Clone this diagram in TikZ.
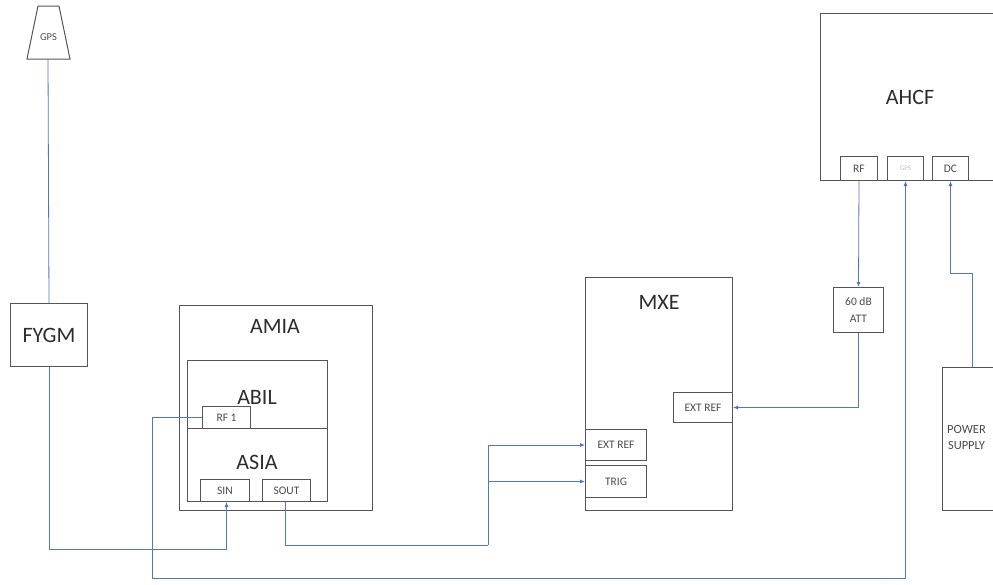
\documentclass[tikz,border=0pt]{standalone}
\usepackage{fontspec}
\setmainfont{Carlito}
\usetikzlibrary{arrows.meta,calc}
\definecolor{conncol}{RGB}{80,118,196}
\definecolor{boxcol}{RGB}{85,85,85}
\definecolor{txtcol}{RGB}{45,45,45}
\tikzset{
  box/.style={draw=boxcol, line width=1pt, fill=white, rectangle, inner sep=0pt, anchor=north west},
  big/.style={font=\fontsize{22}{24}\selectfont, text=txtcol, inner sep=0pt},
  small/.style={font=\fontsize{11.5}{13}\selectfont, text=txtcol!85, inner sep=0pt, align=center},
  conn/.style={draw=conncol, line width=0.8pt},
  arr/.style={conn, -{Latex[length=5pt,width=4pt]}}
}
\begin{document}
\begin{tikzpicture}[x=1pt,y=-1pt]
\useasboundingbox (0,0) rectangle (993,584);
\clip (0,0) rectangle (993,584);
\fill[white] (0,0) rectangle (993,584);

% GPS antenna
\draw[draw=boxcol, line width=1pt] (38,6) -- (59,6) -- (70,59) -- (27,59) -- cycle;
\node[small, font=\fontsize{10.5}{11}\selectfont] (gpstxt) at (48.5,37) {GPS};
\coordinate (gpsb) at (48,59);

% FYGM
\node[box, minimum width=77pt, minimum height=63pt] (fygm) at (10,303) {};
\node[big] (fygmtxt) at (fygm.center) {FYGM};

% AMIA
\node[box, minimum width=193pt, minimum height=205pt] (amia) at (179,305) {};
\node[big] (amiatxt) at (275,326) {AMIA};
\node[box, minimum width=140pt, minimum height=68pt] (abil) at (187,360) {};
\node[big] (abiltxt) at (257,397) {ABIL};
\node[box, minimum width=140pt, minimum height=73pt] (asia) at (187,428) {};
\node[big] (asiatxt) at (257,462) {ASIA};
\node[box, minimum width=48pt, minimum height=22pt] (rf1) at (202,406) {};
\node[small] (rf1txt) at (rf1.center) {RF 1};
\node[box, minimum width=49pt, minimum height=22pt] (sin) at (200,479) {};
\node[small] (sintxt) at (sin.center) {SIN};
\node[box, minimum width=48pt, minimum height=22pt] (sout) at (262,479) {};
\node[small] (souttxt) at (sout.center) {SOUT};

% MXE
\node[box, minimum width=147pt, minimum height=233pt] (mxe) at (585,277) {};
\node[big] (mxetxt) at (659,302) {MXE};
\node[box, minimum width=59pt, minimum height=30pt] (mxeref) at (673,392) {};
\node[small] (mxereftxt) at (mxeref.center) {EXT REF};
\node[box, minimum width=61pt, minimum height=31pt] (extref) at (585,429) {};
\node[small] (extreftxt) at (extref.center) {EXT REF};
\node[box, minimum width=61pt, minimum height=32pt] (trig) at (585,465) {};
\node[small] (trigtxt) at (trig.center) {TRIG};

% Attenuator
\node[box, minimum width=50pt, minimum height=45pt] (att) at (833,287) {};
\node[small] (atttxt) at (att.center) {60 dB\\[4pt]ATT};

% AHCF
\node[box, minimum width=200pt, minimum height=167pt] (ahcf) at (820,13) {};
\node[big] (ahcftxt) at (910,97) {AHCF};
\node[box, minimum width=37pt, minimum height=24pt] (rf) at (840,156) {};
\node[small] (rftxt) at (rf.center) {RF};
\node[box, minimum width=36pt, minimum height=24pt] (gpsport) at (887,156) {};
\node[small, font=\fontsize{7}{8}\selectfont, text=black!25] (gpsporttxt) at (gpsport.center) {GPS};
\node[box, minimum width=36pt, minimum height=24pt] (dc) at (932,156) {};
\node[small] (dctxt) at (dc.center) {DC};

% Power supply
\node[box, minimum width=80pt, minimum height=143pt] (psu) at (942,367) {};
\node[small, font=\fontsize{12.5}{16}\selectfont, anchor=west] (psutxt) at (947,437) {POWER\\SUPPLY};

% junction coordinates
\coordinate (j1) at (488,545);
\coordinate (j2) at (152,578);
\coordinate (j3) at (972,273);

% connectors
\draw[conn] (gpsb) -- (fygm.north);
\draw[arr] (fygm.south) |- ($(sin.south)+(1.5,47)$) -- ($(sin.south)+(1.5,0)$);
\draw[conn] ($(sout.south)+(-1,0)$) |- (j1);
\draw[arr] (j1) |- (extref.west);
\draw[arr] (j1 |- trig.west) -- (trig.west);
\draw[arr] (rf1.west) -| (j2) -| (gpsport.south);
\draw[arr] (rf.south) -- (att.north);
\draw[arr] (att.south) |- (mxeref.east);
\draw[arr] (j3 |- psu.north) -- (j3) -| (dc.south);
\end{tikzpicture}
\end{document}
